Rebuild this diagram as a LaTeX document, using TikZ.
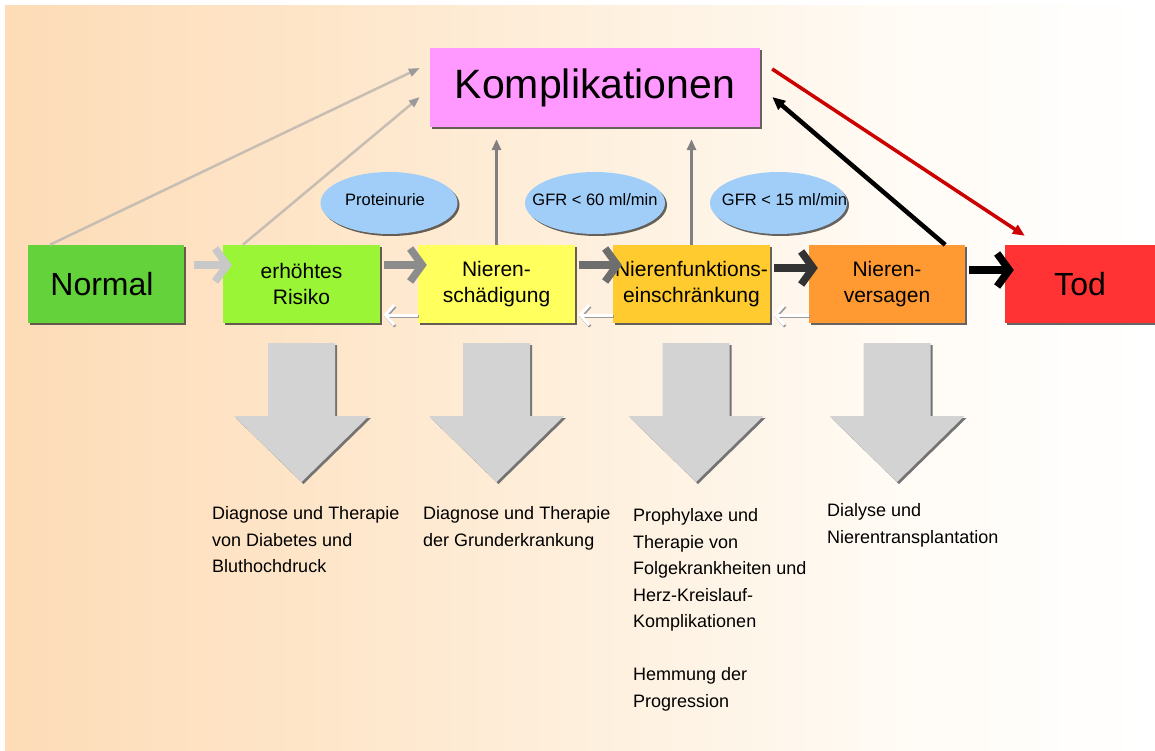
\documentclass[tikz,border=0pt]{standalone}
\usepackage{fontspec}
\setmainfont{Liberation Sans}
\usetikzlibrary{arrows.meta,calc,shapes.geometric,shadows}
\definecolor{bgA}{HTML}{FDDCB7}
\definecolor{bgB}{HTML}{FEE5C8}
\definecolor{bgC}{HTML}{FEF0DE}
\definecolor{bgD}{HTML}{FFFBF5}
\definecolor{cNormal}{HTML}{63D23B}
\definecolor{cRisiko}{HTML}{99F536}
\definecolor{cSchaed}{HTML}{FFFF5E}
\definecolor{cFunk}{HTML}{FFCB2E}
\definecolor{cVers}{HTML}{FF9A33}
\definecolor{cTod}{HTML}{FF3333}
\definecolor{cKompl}{HTML}{FF99FF}
\definecolor{cEll}{HTML}{A0CEF8}
\definecolor{cBlock}{HTML}{D3D3D3}
\definecolor{cThin}{HTML}{C6BDB3}
\definecolor{cTip}{HTML}{9A9A9A}
\definecolor{cRed}{HTML}{CC0000}
\definecolor{fA}{HTML}{C8C8C8}
\definecolor{fB}{HTML}{8C8C8C}
\definecolor{fC}{HTML}{6E6E6E}
\definecolor{fD}{HTML}{333333}
\begin{document}
\begin{tikzpicture}[x=1pt,y=-1pt,
  box/.style={rectangle, minimum width=157pt, minimum height=78pt, inner sep=0pt,
    align=center, drop shadow={shadow xshift=2pt, shadow yshift=-2pt, opacity=0.6, fill=black},
    font=\fontsize{21}{26}\selectfont},
  bigbox/.style={box, font=\fontsize{32}{38}\selectfont},
  ell/.style={ellipse, minimum height=62pt, inner sep=0pt, fill=cEll,
    drop shadow={shadow xshift=2pt, shadow yshift=-2pt, opacity=0.6, fill=black}},
  elltext/.style={inner sep=0pt, font=\fontsize{16.5}{19}\selectfont},
  fwd/.style={line width=7.5pt, -{Straight Barb[length=12pt, width=33pt]}, shorten >=-9pt, shorten <=4pt},
  backshadow/.style={draw=black!40, line width=3pt, -{Straight Barb[length=9pt, width=20pt]},
    shorten >=3pt, transform canvas={xshift=1pt, yshift=-1.5pt}},
  back/.style={draw=white, line width=3pt, -{Straight Barb[length=9pt, width=20pt]}, shorten >=3pt},
  thinarr/.style={draw=cThin, line width=2.5pt, -{Triangle[length=11pt, width=8pt, color=cTip]}},
  uparr/.style={draw=black!50, line width=3pt, -{Triangle[length=11pt, width=9pt]}},
  note/.style={anchor=north west, inner sep=0pt, align=left, font=\fontsize{18}{26.5}\selectfont},
  downarrow/.pic={
    \fill[black!55] (-31.5,2) -- (35.5,2) -- (35.5,75) -- (69.5,75) -- (2,141) -- (-65.5,75) -- (-31.5,75) -- cycle;
    \fill[cBlock] (-33.5,0) -- (33.5,0) -- (33.5,73) -- (67.5,73) -- (0,139) -- (-67.5,73) -- (-33.5,73) -- cycle;
  }]
\useasboundingbox (0,0) rectangle (1155,751);
\fill[white] (0,0) rectangle (1155,751);
\shade[left color=bgA, right color=bgB] (5,6) rectangle (300.5,751);
\shade[left color=bgB, right color=bgC] (300,6) rectangle (600.5,751);
\shade[left color=bgC, right color=bgD] (600,6) rectangle (900.5,751);
\shade[left color=bgD, right color=white] (900,6) rectangle (1155,751);

% boxes
\node[bigbox, fill=cNormal, minimum width=156pt] (normal) at (106,284) {Normal\hspace{8pt}};
\node[box, fill=cRisiko] (risiko) at (301.5,284) {erhöhtes\\Risiko};
\node[box, fill=cSchaed] (schaed) at (496.5,284) {Nieren-\\schädigung};
\node[box, fill=cFunk] (funk) at (691.5,284) {Nierenfunktions-\\einschränkung};
\node[box, fill=cVers, minimum width=156pt] (vers) at (887,284) {Nieren-\\versagen};
\node[bigbox, fill=cTod, minimum width=150pt] (tod) at (1080,284) {Tod};
\node[box, fill=cKompl, minimum width=330pt, minimum height=79pt, font=\fontsize{41}{48}\selectfont] (kompl) at (595,87.5) {Komplikationen};

% ellipses
\node[ell, minimum width=137pt] (prot) at (389,203) {};
\node[ell, minimum width=140pt] (gfr60) at (595,203) {};
\node[ell, minimum width=137pt] (gfr15) at (778.5,203) {};
\node[elltext] (protT) at ($(prot.center)+(-4,-3)$) {Proteinurie};
\node[elltext] (gfr60T) at ($(gfr60.center)+(0,-3)$) {GFR < 60 ml/min};
\node[elltext] (gfr15T) at ($(gfr15.center)+(6,-3)$) {GFR < 15 ml/min};

% forward arrows
\draw[fwd, fA, shorten <=10pt] ($(normal.east)+(0,-19)$) -- ($(risiko.west)+(0,-19)$);
\draw[fwd, fB] ($(risiko.east)+(0,-19)$) -- ($(schaed.west)+(0,-19)$);
\draw[fwd, fC] ($(schaed.east)+(0,-19)$) -- ($(funk.west)+(0,-19)$);
\draw[fwd, fD] ($(funk.east)+(0,-16)$) -- ($(vers.west)+(0,-16)$);
\draw[fwd, black] ($(vers.east)+(0,-14)$) -- ($(tod.west)+(0,-14)$);

% backward arrows
\draw[backshadow] ($(schaed.west)+(0,31)$) -- ($(risiko.east)+(0,31)$);
\draw[backshadow] ($(funk.west)+(0,31)$) -- ($(schaed.east)+(0,31)$);
\draw[backshadow] ($(vers.west)+(0,31)$) -- ($(funk.east)+(0,31)$);
\draw[back] ($(schaed.west)+(0,31)$) -- ($(risiko.east)+(0,31)$);
\draw[back] ($(funk.west)+(0,31)$) -- ($(schaed.east)+(0,31)$);
\draw[back] ($(vers.west)+(0,31)$) -- ($(funk.east)+(0,31)$);

% arrows to Komplikationen
\draw[thinarr] ($(normal.north west)+(22,0)$) -- ($(kompl.west)+(-10,-19.5)$);
\draw[thinarr] ($(risiko.north west)+(20,0)$) -- ($(kompl.west)+(-10,9.5)$);
\draw[uparr] (schaed.north) -- ($(schaed.north |- kompl.south)+(0,12)$);
\draw[uparr] (funk.north) -- ($(funk.north |- kompl.south)+(0,12)$);
\draw[black, line width=4.5pt, -{Triangle[length=13pt, width=11pt]}] ($(vers.north east)+(-20,0)$) -- ($(kompl.east)+(12,9.5)$);
\draw[cRed, line width=3.5pt, -{Triangle[length=12pt, width=10pt]}] ($(kompl.east)+(12,-18.5)$) -- ($(tod.north west)+(20,-9)$);

% down block arrows
\pic at (301.5,343) {downarrow};
\pic at (496.5,343) {downarrow};
\pic at (696,343) {downarrow};
\pic at (897,343) {downarrow};

% texts
\node[note] (t1) at (212,506.5) {Diagnose und Therapie\\von Diabetes und\\Bluthochdruck};
\node[note] (t2) at (423,506.5) {Diagnose und Therapie\\der Grunderkrankung};
\node[note] (t3) at (633,508.5) {Prophylaxe und\\Therapie von\\Folgekrankheiten und\\Herz-Kreislauf-\\Komplikationen\\[26.5pt]Hemmung der\\Progression};
\node[note] (t4) at (827,503.5) {Dialyse und\\Nierentransplantation};
\end{tikzpicture}
\end{document}
